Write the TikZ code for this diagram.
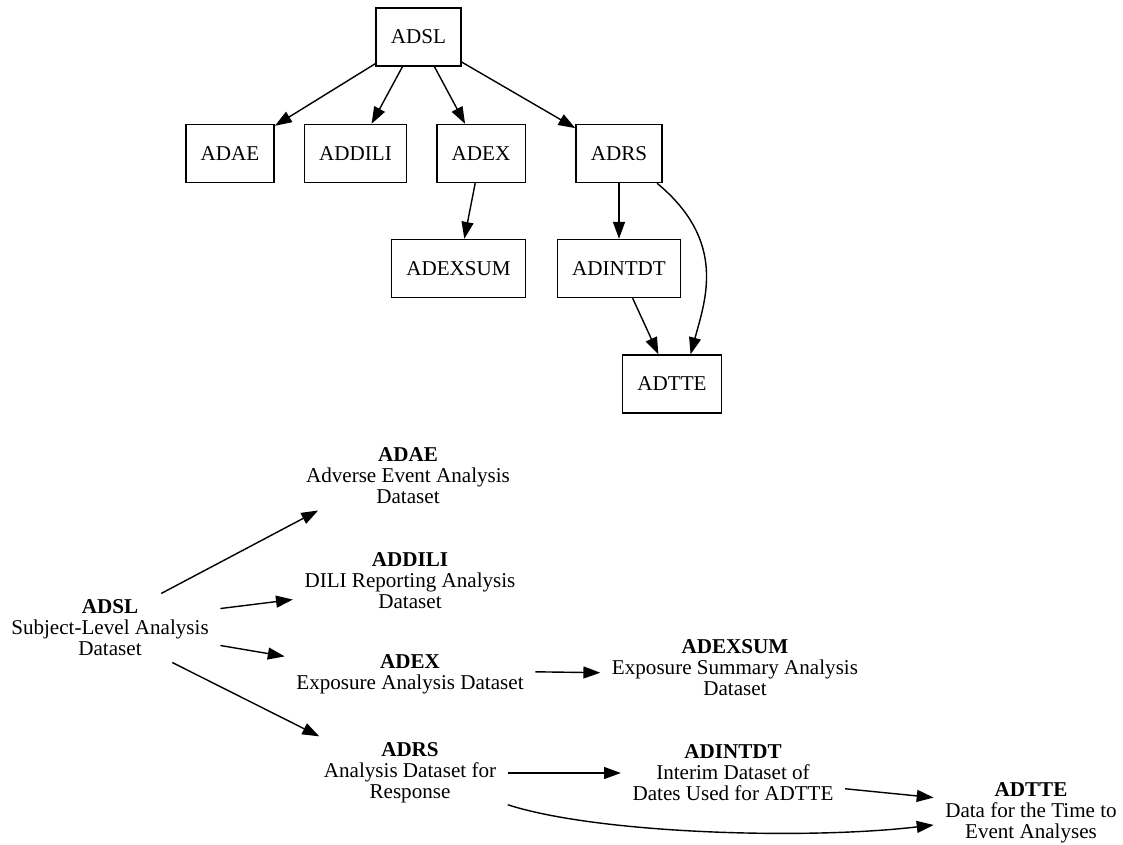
\documentclass[tikz,border=0pt]{standalone}
\usepackage{fontspec}
\setmainfont{Liberation Serif}
\usetikzlibrary{arrows.meta}

\begin{document}
\begin{tikzpicture}[x=0.025cm,y=-0.025cm,>={Triangle[length=12pt,width=8.5pt]},
  line width=1pt,font=\fontsize{15}{15}\selectfont,
  box/.style={draw,inner xsep=10.6pt,minimum height=1.45cm},
  lbl/.style={align=center,inner xsep=7.8pt,inner ysep=4pt}]
\useasboundingbox (0,0) rectangle (1123,845);
% tree of boxes
\node[box] (adsl) at (418.5,37) {ADSL};
\node[box] (adae) at (230,153.5) {ADAE};
\node[box] (addili) at (355.5,153.5) {ADDILI};
\node[box] (adex) at (481,153.5) {ADEX};
\node[box] (adrs) at (619,153.5) {ADRS};
\node[box] (adexsum) at (458.5,268.5) {ADEXSUM};
\node[box] (adintdt) at (619,268.5) {ADINTDT};
\node[box] (adtte) at (672,384) {ADTTE};
\draw[->] (adsl) -- (adae);
\draw[->] (adsl) -- (addili);
\draw[->] (adsl) -- (adex);
\draw[->] (adsl) -- (adrs);
\draw[->] (adex) -- (adexsum);
\draw[->] (adrs) -- (adintdt);
\draw[->] (adrs.-38) .. controls +(70,58) and +(15,-55) .. (adtte.58);
\draw[->] (adintdt) -- (adtte);
% left to right, with descriptions
\node[lbl] (adsl2) at (110,628) {\textbf{ADSL}\\Subject-Level Analysis\\Dataset};
\node[lbl] (adae2) at (408,476) {\textbf{ADAE}\\Adverse Event Analysis\\Dataset};
\node[lbl] (addili2) at (410,581) {\textbf{ADDILI}\\DILI Reporting Analysis\\Dataset};
\node[lbl] (adex2) at (410,674) {\textbf{ADEX}\\Exposure Analysis Dataset};
\node[lbl] (adrs2) at (410,773) {\textbf{ADRS}\\Analysis Dataset for\\Response};
\node[lbl] (adexsum2) at (735,668) {\textbf{ADEXSUM}\\Exposure Summary Analysis\\Dataset};
\node[lbl] (adintdt2) at (733,773) {\textbf{ADINTDT}\\Interim Dataset of\\Dates Used for ADTTE};
\node[lbl] (adtte2) at (1031,813) {\textbf{ADTTE}\\Data for the Time to\\Event Analyses};
\draw[->] (adsl2.34) -- (adae2.201);
\draw[->] (adsl2.10) -- (addili2.189);
\draw[->] (adsl2.-9) -- (adex2.172);
\draw[->] (adsl2.-29) -- (adrs2.158);
\draw[->] (adex2.1) -- (adexsum2.182);
\draw[->] (adrs2.0) -- (adintdt2.180);
\draw[->] (adrs2.-18) .. controls +(90,29) and +(-128,15) .. (adtte2.187);
\draw[->] (adintdt2.-8) -- (adtte2.171);
\end{tikzpicture}
\end{document}
